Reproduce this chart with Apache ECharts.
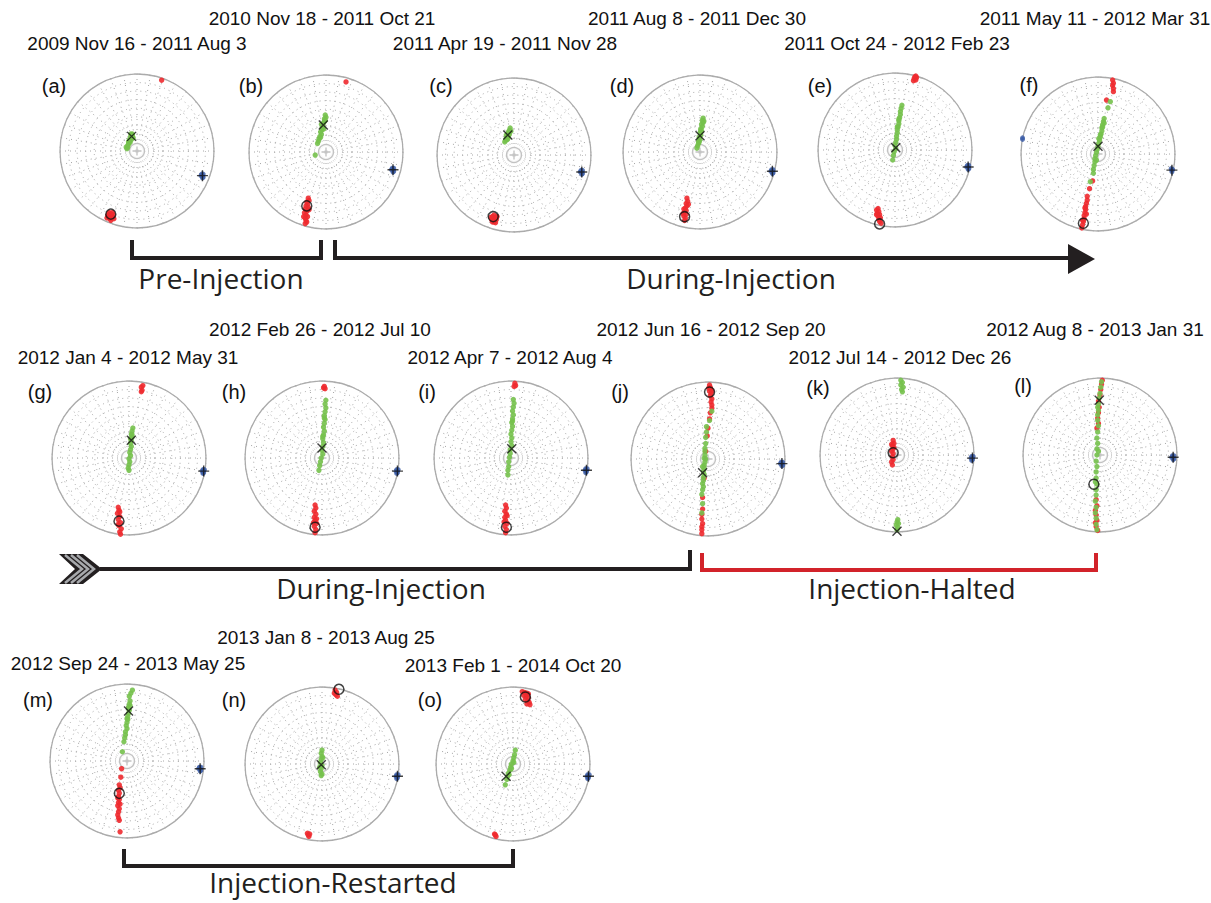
<!DOCTYPE html>
<html><head><meta charset="utf-8">
<script src="https://cdn.jsdelivr.net/npm/echarts@6/dist/echarts.min.js"></script>
<style>html,body{margin:0;padding:0;background:#fff}#c{width:1211px;height:903px}</style>
</head><body><div id="c"></div>
<script>
// ---------- text ----------
const titles = [
 '2009 Nov 16 - 2011 Aug 3','2010 Nov 18 - 2011 Oct 21','2011 Apr 19 - 2011 Nov 28',
 '2011 Aug 8 - 2011 Dec 30','2011 Oct 24 - 2012 Feb 23','2011 May 11 - 2012 Mar 31',
 '2012 Jan 4 - 2012 May 31','2012 Feb 26 - 2012 Jul 10','2012 Apr 7 - 2012 Aug 4',
 '2012 Jun 16 - 2012 Sep 20','2012 Jul 14 - 2012 Dec 26','2012 Aug 8 - 2013 Jan 31',
 '2012 Sep 24 - 2013 May 25','2013 Jan 8 - 2013 Aug 25','2013 Feb 1 - 2014 Oct 20'];
const panelLabels = ['(a)','(b)','(c)','(d)','(e)','(f)','(g)','(h)','(i)','(j)','(k)','(l)','(m)','(n)','(o)'];
const phaseLabels = ['Pre-Injection','During-Injection','During-Injection','Injection-Halted','Injection-Restarted'];

// ---------- data (projection coordinates, unit circle; x = east, y = north) ----------
const green_a=[[-0.07,0.21],[-0.06,0.19],[-0.08,0.19],[-0.07,0.17],[-0.09,0.16],[-0.08,0.14],[-0.10,0.12],[-0.09,0.11],[-0.11,0.09],[-0.12,0.07],[-0.12,0.05],[-0.13,0.03],[-0.06,0.22],[-0.10,0.14],[-0.05,0.17],[-0.11,0.12],[-0.08,0.22],[-0.14,0.05]];
const red_a=[[-0.34,-0.82],[-0.37,-0.85],[-0.32,-0.86],[-0.35,-0.88],[-0.38,-0.84],[-0.33,-0.84],[-0.36,-0.87],[-0.31,-0.83],[-0.34,-0.90],[-0.37,-0.82],[-0.30,-0.88],[-0.36,-0.80],[-0.39,-0.87],[-0.32,-0.80],[0.32,0.92]];
const blue_a=[[0.85,-0.32],[0.84,-0.30],[0.86,-0.34],[0.85,-0.35],[0.83,-0.32],[0.86,-0.30]];

const green_b=[[-0.01,0.48],[0.00,0.45],[-0.02,0.43],[-0.02,0.40],[-0.03,0.38],[-0.04,0.35],[-0.05,0.32],[-0.05,0.29],[-0.07,0.26],[-0.06,0.23],[-0.08,0.20],[-0.09,0.17],[-0.10,0.14],[-0.11,0.11],[-0.14,-0.04],[-0.03,0.30],[-0.06,0.36],[-0.01,0.41],[-0.07,0.19]];
const red_b=[[-0.23,-0.60],[-0.22,-0.63],[-0.25,-0.65],[-0.24,-0.68],[-0.26,-0.70],[-0.23,-0.72],[-0.27,-0.74],[-0.25,-0.77],[-0.28,-0.79],[-0.26,-0.82],[-0.24,-0.84],[-0.27,-0.86],[-0.26,-0.89],[-0.27,-0.93],[-0.25,-0.91],[-0.22,-0.75],[-0.29,-0.84],[0.26,0.91]];
const blue_b=[[0.87,-0.23],[0.86,-0.21],[0.88,-0.25],[0.87,-0.26],[0.85,-0.23],[0.88,-0.21]];

const green_c=[[-0.05,0.35],[-0.06,0.32],[-0.07,0.30],[-0.08,0.28],[-0.07,0.25],[-0.09,0.24],[-0.10,0.22],[-0.09,0.20],[-0.11,0.19],[-0.12,0.17],[-0.06,0.27],[-0.10,0.26],[-0.04,0.31],[-0.08,0.21]];
const red_c=[[-0.26,-0.78],[-0.28,-0.80],[-0.24,-0.81],[-0.27,-0.83],[-0.25,-0.85],[-0.29,-0.84],[-0.23,-0.84],[-0.26,-0.87],[-0.28,-0.87],[-0.24,-0.88],[-0.30,-0.81],[-0.22,-0.80]];
const blue_c=[[0.88,-0.22],[0.87,-0.20],[0.89,-0.24],[0.88,-0.25],[0.86,-0.22],[0.89,-0.20]];

const green_d=[[0.04,0.44],[0.03,0.41],[0.04,0.38],[0.02,0.36],[0.03,0.33],[0.01,0.30],[0.02,0.27],[0.00,0.25],[0.01,0.22],[-0.01,0.19],[0.00,0.16],[-0.02,0.14],[-0.02,0.11],[-0.03,0.08],[-0.04,0.05],[0.05,0.40],[0.01,0.28],[-0.01,0.13]];
const red_d=[[-0.17,-0.60],[-0.16,-0.64],[-0.18,-0.67],[-0.17,-0.70],[-0.19,-0.73],[-0.18,-0.76],[-0.20,-0.78],[-0.18,-0.81],[-0.21,-0.83],[-0.19,-0.86],[-0.20,-0.89],[-0.22,-0.80],[-0.15,-0.68],[-0.21,-0.74]];
const blue_d=[[0.94,-0.25],[0.93,-0.23],[0.95,-0.27],[0.94,-0.28],[0.92,-0.25],[0.95,-0.23]];

const green_e=[[0.09,0.58],[0.08,0.54],[0.07,0.50],[0.07,0.46],[0.06,0.42],[0.05,0.38],[0.05,0.34],[0.04,0.30],[0.03,0.26],[0.03,0.22],[0.02,0.18],[0.02,0.14],[0.01,0.10],[0.00,0.06],[0.01,0.02],[-0.01,-0.02],[-0.02,-0.07],[-0.03,-0.13],[0.05,0.40],[0.03,0.30]];
const red_e=[[0.25,0.93],[0.27,0.91],[0.26,0.95],[0.28,0.94],[0.24,0.90],[0.27,0.96],[-0.22,-0.76],[-0.24,-0.78],[-0.21,-0.80],[-0.23,-0.82],[-0.20,-0.84],[-0.22,-0.86],[-0.19,-0.88],[-0.21,-0.90],[-0.20,-0.93],[-0.18,-0.95],[-0.24,-0.84]];
const blue_e=[[0.95,-0.22],[0.94,-0.20],[0.96,-0.24],[0.95,-0.25],[0.93,-0.22],[0.96,-0.20]];

const green_f=[[0.16,0.68],[0.13,0.60],[0.08,0.46],[0.07,0.42],[0.06,0.38],[0.05,0.34],[0.05,0.30],[0.04,0.26],[0.03,0.22],[0.02,0.18],[0.01,0.14],[0.00,0.10],[-0.01,0.06],[-0.02,0.02],[-0.03,-0.02],[-0.04,-0.06],[-0.04,-0.10],[-0.05,-0.15],[-0.06,-0.20],[-0.06,-0.25],[-0.10,-0.36],[0.06,0.35],[0.03,0.25],[0.08,0.40],[0.01,0.20],[-0.02,-0.08]];
const red_f=[[0.19,0.96],[0.20,0.92],[0.19,0.89],[0.20,0.85],[0.20,0.81],[0.11,0.70],[-0.07,-0.35],[-0.11,-0.45],[-0.14,-0.55],[-0.14,-0.60],[-0.15,-0.64],[-0.16,-0.68],[-0.16,-0.72],[-0.17,-0.76],[-0.18,-0.80],[-0.18,-0.84],[-0.19,-0.88],[-0.20,-0.92],[-0.21,-0.96],[-0.17,-0.70],[-0.15,-0.78],[-0.20,-0.86]];
const blue_f=[[0.96,-0.21],[0.95,-0.19],[0.96,-0.23],[0.97,-0.20],[-0.98,0.19],[-0.98,0.21]];

const green_g=[[0.05,0.39],[0.04,0.35],[0.03,0.31],[0.04,0.27],[0.03,0.23],[0.02,0.19],[0.03,0.15],[0.02,0.11],[0.01,0.07],[0.02,0.03],[0.00,-0.01],[0.01,-0.05],[0.00,-0.09],[-0.01,-0.13],[0.00,-0.16],[0.02,0.25],[0.04,0.30]];
const red_g=[[0.16,0.92],[0.17,0.88],[0.18,0.94],[0.16,0.86],[-0.14,-0.64],[-0.13,-0.68],[-0.15,-0.72],[-0.12,-0.76],[-0.14,-0.80],[-0.11,-0.84],[-0.13,-0.88],[-0.10,-0.92],[-0.12,-0.96],[-0.11,-0.99],[-0.14,-0.86],[-0.12,-0.70]];
const blue_g=[[0.97,-0.17],[0.96,-0.15],[0.97,-0.19],[0.96,-0.20],[0.95,-0.17],[0.98,-0.15]];

const green_h=[[0.05,0.75],[0.04,0.70],[0.05,0.65],[0.04,0.60],[0.03,0.55],[0.04,0.50],[0.03,0.45],[0.02,0.40],[0.03,0.35],[0.02,0.30],[0.01,0.25],[0.02,0.20],[0.01,0.15],[0.00,0.10],[0.01,0.05],[-0.01,0.00],[-0.02,-0.05],[-0.03,-0.10],[-0.04,-0.16],[0.03,0.52],[0.01,0.28]];
const red_h=[[0.03,0.93],[0.04,0.90],[0.02,0.91],[-0.09,-0.61],[-0.08,-0.65],[-0.10,-0.69],[-0.08,-0.73],[-0.10,-0.77],[-0.09,-0.81],[-0.07,-0.85],[-0.10,-0.89],[-0.08,-0.93],[-0.09,-0.97],[-0.07,-0.79],[-0.11,-0.84]];
const blue_h=[[0.98,-0.17],[0.97,-0.15],[0.98,-0.19],[0.97,-0.20],[0.96,-0.17],[0.99,-0.15]];

const green_i=[[0.03,0.76],[0.04,0.71],[0.03,0.66],[0.02,0.61],[0.03,0.56],[0.02,0.51],[0.01,0.46],[0.02,0.41],[0.01,0.36],[0.00,0.31],[0.01,0.26],[0.00,0.21],[0.01,0.16],[-0.01,0.11],[-0.01,0.06],[-0.02,0.01],[-0.03,-0.05],[-0.03,-0.11],[-0.04,-0.16],[-0.04,-0.22],[0.02,0.48]];
const red_i=[[0.05,0.97],[0.06,0.94],[0.04,0.93],[-0.07,-0.61],[-0.06,-0.65],[-0.08,-0.69],[-0.06,-0.73],[-0.08,-0.77],[-0.07,-0.81],[-0.05,-0.85],[-0.08,-0.89],[-0.06,-0.93],[-0.07,-0.97],[-0.05,-0.75],[-0.09,-0.83]];
const blue_i=[[0.98,-0.16],[0.97,-0.14],[0.98,-0.18],[0.97,-0.19],[0.96,-0.16],[0.99,-0.14]];

const green_j=[[0.05,0.62],[0.02,0.50],[-0.02,0.42],[-0.02,0.35],[-0.03,0.28],[-0.03,0.20],[-0.04,0.14],[-0.04,0.10],[-0.04,0.05],[-0.05,0.01],[-0.04,-0.04],[-0.05,-0.08],[-0.05,-0.12],[-0.06,-0.16],[-0.05,-0.20],[-0.06,-0.24],[-0.06,-0.28],[-0.07,-0.32],[-0.06,-0.36],[-0.07,-0.40],[-0.08,-0.46],[-0.07,-0.58],[-0.08,-0.70],[-0.03,0.00],[-0.07,-0.10]];
const red_j=[[0.02,0.96],[0.03,0.93],[0.04,0.90],[0.02,0.88],[0.04,0.85],[0.03,0.82],[0.05,0.78],[0.04,0.74],[0.05,0.70],[0.05,0.66],[0.03,0.60],[0.02,0.52],[0.00,0.40],[-0.01,0.30],[-0.03,0.10],[-0.05,-0.25],[-0.07,-0.50],[-0.07,-0.65],[-0.08,-0.72],[-0.08,-0.78],[-0.07,-0.84],[-0.08,-0.88],[-0.08,-0.92],[-0.08,-0.97],[0.01,0.92],[0.05,0.88]];
const blue_j=[[0.96,-0.06],[0.95,-0.04],[0.97,-0.08],[0.96,-0.09],[0.94,-0.06],[0.97,-0.04]];

const green_k=[[0.05,0.97],[0.07,0.94],[0.05,0.91],[0.08,0.88],[0.06,0.85],[0.07,0.82],[0.01,-0.84],[0.00,-0.87],[0.02,-0.89],[-0.01,-0.91],[0.01,-0.94],[0.00,-0.97]];
const red_k=[[-0.05,0.19],[-0.04,0.15],[-0.06,0.12],[-0.05,0.08],[-0.07,0.05],[-0.05,0.02],[-0.06,-0.02],[-0.05,-0.06],[-0.07,-0.09],[-0.06,-0.13],[-0.04,0.10],[-0.07,0.14]];
const blue_k=[[0.98,-0.04],[0.97,-0.02],[0.98,-0.06],[0.97,-0.07],[0.96,-0.04],[0.99,-0.02]];

const green_l=[[0.02,0.95],[0.01,0.88],[0.00,0.80],[-0.01,0.74],[-0.02,0.66],[-0.02,0.58],[-0.03,0.52],[-0.03,0.45],[-0.02,0.38],[-0.03,0.30],[-0.04,0.22],[-0.03,0.15],[-0.04,0.08],[-0.04,0.00],[-0.05,-0.08],[-0.04,-0.15],[-0.05,-0.22],[-0.05,-0.30],[-0.04,-0.38],[-0.05,-0.45],[-0.05,-0.52],[-0.06,-0.60],[-0.05,-0.68],[-0.06,-0.75],[-0.05,-0.82],[-0.05,-0.90],[-0.04,-0.97],[-0.03,0.62],[-0.02,0.05],[-0.06,-0.35]];
const red_l=[[0.03,0.97],[0.02,0.92],[0.01,0.85],[0.00,0.78],[-0.02,0.70],[-0.01,0.62],[-0.02,0.55],[-0.03,0.48],[-0.02,0.41],[-0.04,0.35],[-0.05,-0.58],[-0.04,-0.66],[-0.06,-0.72],[-0.05,-0.78],[-0.04,-0.85],[-0.06,-0.88],[-0.05,-0.93],[-0.03,-0.98]];
const blue_l=[[0.95,-0.03],[0.94,-0.01],[0.96,-0.05],[0.95,-0.06],[0.93,-0.03],[0.96,-0.01]];

const green_m=[[0.07,0.92],[0.05,0.88],[0.03,0.84],[0.04,0.78],[0.03,0.74],[0.02,0.70],[0.03,0.66],[0.02,0.62],[0.01,0.58],[0.01,0.54],[0.00,0.50],[-0.01,0.46],[0.00,0.42],[-0.02,0.38],[-0.02,0.34],[-0.03,0.30],[-0.04,0.25],[-0.06,0.12],[0.02,0.68],[0.00,0.55],[0.04,0.72]];
const red_m=[[-0.07,-0.10],[-0.08,-0.21],[-0.10,-0.31],[-0.09,-0.35],[-0.11,-0.38],[-0.10,-0.42],[-0.11,-0.46],[-0.10,-0.50],[-0.11,-0.54],[-0.12,-0.58],[-0.10,-0.62],[-0.11,-0.66],[-0.12,-0.70],[-0.11,-0.74],[-0.10,-0.77],[-0.09,-0.92],[-0.12,-0.48],[-0.09,-0.56]];
const blue_m=[[0.95,-0.10],[0.94,-0.08],[0.96,-0.12],[0.95,-0.13],[0.93,-0.10],[0.96,-0.08]];

const green_n=[[0.00,0.18],[-0.01,0.14],[0.00,0.10],[-0.01,0.06],[-0.02,0.02],[0.00,-0.02],[-0.01,-0.06],[-0.02,-0.10],[0.00,-0.13],[-0.01,-0.15],[0.01,0.08],[-0.03,-0.04]];
const red_n=[[0.17,0.96],[0.19,0.93],[0.18,0.90],[0.20,0.88],[0.16,0.92],[-0.18,-0.92],[-0.17,-0.94],[-0.19,-0.90],[-0.16,-0.91]];
const blue_n=[[0.98,-0.16],[0.97,-0.14],[0.98,-0.18],[0.97,-0.19],[0.96,-0.16],[0.99,-0.14]];

const green_o=[[0.03,0.18],[0.02,0.12],[0.01,0.08],[0.00,0.04],[-0.02,0.00],[-0.03,-0.04],[-0.04,-0.08],[-0.06,-0.12],[-0.07,-0.16],[-0.08,-0.20],[-0.10,-0.27],[-0.05,-0.14],[-0.02,-0.06],[0.01,0.02]];
const red_o=[[0.12,0.94],[0.15,0.93],[0.18,0.92],[0.14,0.89],[0.17,0.88],[0.20,0.86],[0.16,0.84],[0.19,0.82],[0.21,0.80],[0.18,0.78],[0.22,0.77],[0.20,0.91],[-0.23,-0.92],[-0.22,-0.94],[-0.24,-0.91]];
const blue_o=[[0.98,-0.16],[0.97,-0.14],[0.98,-0.18],[0.97,-0.19],[0.96,-0.16],[0.99,-0.14]];

const greens=[green_a,green_b,green_c,green_d,green_e,green_f,green_g,green_h,green_i,green_j,green_k,green_l,green_m,green_n,green_o];
const reds=[red_a,red_b,red_c,red_d,red_e,red_f,red_g,red_h,red_i,red_j,red_k,red_l,red_m,red_n,red_o];
const blues=[blue_a,blue_b,blue_c,blue_d,blue_e,blue_f,blue_g,blue_h,blue_i,blue_j,blue_k,blue_l,blue_m,blue_n,blue_o];
// mean directions: X (green set), O (red set), + (blue set)
const meanX=[[-0.07,0.19],[-0.035,0.35],[-0.08,0.26],[0.00,0.21],[0.01,0.03],[0.00,0.10],[0.03,0.23],[0.00,0.13],[0.01,0.12],[-0.07,-0.18],[0.00,-0.99],[-0.01,0.71],[0.02,0.65],[-0.01,-0.01],[-0.09,-0.16]];
const meanO=[[-0.34,-0.82],[-0.25,-0.70],[-0.27,-0.80],[-0.20,-0.84],[-0.20,-0.96],[-0.19,-0.90],[-0.13,-0.82],[-0.09,-0.90],[-0.06,-0.90],[0.02,0.87],[-0.05,0.03],[-0.08,-0.38],[-0.10,-0.42],[0.22,0.97],[0.16,0.87]];
const meanPlus=[[0.85,-0.32],[0.87,-0.23],[0.88,-0.22],[0.94,-0.25],[0.95,-0.22],[0.96,-0.21],[0.97,-0.17],[0.98,-0.17],[0.98,-0.16],[0.96,-0.06],[0.98,-0.04],[0.95,-0.03],[0.95,-0.10],[0.98,-0.16],[0.98,-0.16]];

// ---------- layout ----------
const R = 77;
const centers=[[137,151],[326,152],[514,155],[700,152],[895,150],[1098,154],
 [129,458],[322,458],[511,458],[708,459],[897,455],[1100,455],
 [127,761],[322,764],[513,764]];
const titlePos=[[137,43],[322,18],[505,43],[697,18],[897,43],[1095,18],
 [128,357],[320,329],[510,357],[711,329],[900,357],[1095,329],
 [128,663],[326,637],[513,665]];
const labelPos=[[54,86],[251,86],[441,86],[622,86],[820,86],[1029,85],
 [40,392],[234,392],[427,392],[620,392],[818,388],[1023,386],
 [38,700],[234,700],[430,700]];

const GREEN='#76c14c', RED='#ee2a2f', BLUE='#3a5ba6', GRID='#a6a6a6';
const chart = echarts.init(document.getElementById('c'), null, {renderer:'svg'});
const polar=[], angleAxis=[], radiusAxis=[], grid=[], xAxis=[], yAxis=[], series=[], graphic=[];
const dotted = {show:true, lineStyle:{color:GRID, width:1, type:[1,4]}};
centers.forEach((c,i)=>{
  polar.push({center:[c[0],c[1]], radius:R});
  angleAxis.push({polarIndex:i, type:'value', min:0, max:360, interval:10, startAngle:90, clockwise:true,
    axisLine:{show:true, lineStyle:{color:'#ababab', width:1.3}}, axisTick:{show:false}, axisLabel:{show:false}, splitLine:dotted});
  radiusAxis.push({polarIndex:i, type:'value', min:0, max:90, interval:10,
    axisLine:{show:false}, axisTick:{show:false}, axisLabel:{show:false}, splitLine:dotted});
  grid.push({left:c[0]-R, top:c[1]-R, width:2*R, height:2*R});
  xAxis.push({gridIndex:i, type:'value', min:-1, max:1, show:false});
  yAxis.push({gridIndex:i, type:'value', min:-1, max:1, show:false});
  series.push({type:'scatter', coordinateSystem:'polar', polarIndex:i, data:[], silent:true});
  const base={type:'scatter', xAxisIndex:i, yAxisIndex:i, silent:true, animation:false};
  series.push(Object.assign({}, base, {data:[[0,0]], symbol:'circle', symbolSize:22, itemStyle:{color:'#fff'}}));
  series.push(Object.assign({}, base, {data:[[0,0]], symbol:'circle', symbolSize:15, itemStyle:{color:'rgba(0,0,0,0)', borderColor:'#b3b3b3', borderWidth:1.3}}));
  series.push(Object.assign({}, base, {data:[[0,0]], symbol:'path://M5,0L5,10M0,5L10,5', symbolSize:9, itemStyle:{color:'rgba(0,0,0,0)', borderColor:'#b3b3b3', borderWidth:1.3}}));
  series.push(Object.assign({}, base, {data:reds[i], symbolSize:5.4, itemStyle:{color:RED, opacity:0.9}}));
  series.push(Object.assign({}, base, {data:greens[i], symbolSize:5.4, itemStyle:{color:GREEN, opacity:0.9}}));
  series.push(Object.assign({}, base, {data:blues[i], symbolSize:5, itemStyle:{color:BLUE}}));
  series.push(Object.assign({}, base, {data:[meanO[i]], symbol:'circle', symbolSize:10, itemStyle:{color:'rgba(0,0,0,0)', borderColor:'#111', borderWidth:1.5}}));
  series.push(Object.assign({}, base, {data:[meanX[i]], symbol:'path://M0,0L10,10M10,0L0,10', symbolSize:9, itemStyle:{color:'rgba(0,0,0,0)', borderColor:'#111', borderWidth:1.4}}));
  series.push(Object.assign({}, base, {data:[meanPlus[i]], symbol:'path://M5,0L5,10M0,5L10,5', symbolSize:11, itemStyle:{color:'rgba(0,0,0,0)', borderColor:'#111', borderWidth:1.4}}));
  graphic.push({type:'text', x:titlePos[i][0], y:titlePos[i][1], style:{text:titles[i], fill:'#111', font:'19px "Liberation Sans", Arial, sans-serif', textAlign:'center', textVerticalAlign:'middle'}});
  graphic.push({type:'text', x:labelPos[i][0], y:labelPos[i][1], style:{text:panelLabels[i], fill:'#111', font:'20px "Liberation Sans", Arial, sans-serif', textAlign:'center', textVerticalAlign:'middle'}});
});

const DARK='#231f20', REDB='#d2232a';
const phaseFont='28px "Open Sans", sans-serif';
function line(points,color){return {type:'polyline', shape:{points}, style:{stroke:color, lineWidth:4, fill:null, lineJoin:'miter'}};}
graphic.push(line([[132,240],[132,258],[321,258],[321,240]],DARK));
graphic.push(line([[335,240],[335,258],[1072,258]],DARK));
graphic.push({type:'polygon', shape:{points:[[1068,244],[1095,259],[1068,274]]}, style:{fill:DARK}});
graphic.push({type:'polygon', shape:{points:[[59,554],[83,554],[102,569],[83,584],[59,584],[75,569]]}, style:{fill:DARK}});
[65,71,77].forEach(x0=>graphic.push({type:'polyline', shape:{points:[[x0,555],[x0+17,569],[x0,583]]}, style:{stroke:'#a7a9ac', lineWidth:2.5, fill:null}}));
graphic.push(line([[100,569],[690,569],[690,550]],DARK));
graphic.push(line([[702,553],[702,570],[1096,570],[1096,553]],REDB));
graphic.push(line([[124,849],[124,866],[513,866],[513,849]],DARK));
const phasePos=[[221,278],[731,278],[381,588],[912,588],[333,882]];
phaseLabels.forEach((t,k)=>graphic.push({type:'text', x:phasePos[k][0], y:phasePos[k][1], style:{text:t, fill:DARK, font:phaseFont, textAlign:'center', textVerticalAlign:'middle'}}));

chart.setOption({animation:false, backgroundColor:'#fff', polar, angleAxis, radiusAxis, grid, xAxis, yAxis, series, graphic});
</script></body></html>
